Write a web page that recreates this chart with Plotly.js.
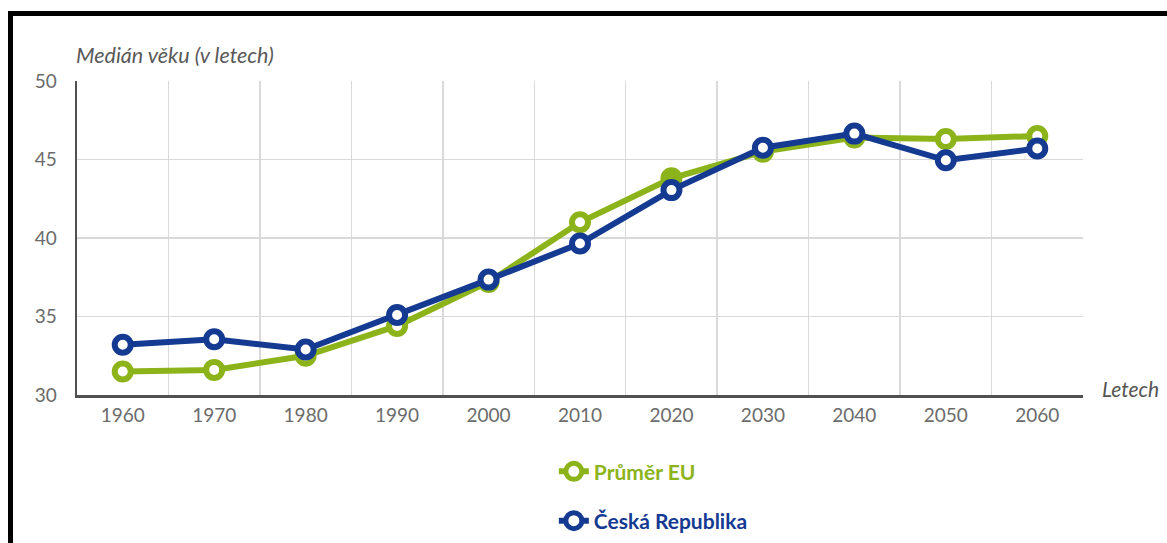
<!DOCTYPE html>
<html>
<head>
<meta charset="utf-8">
<script src="https://cdn.plot.ly/plotly-3.0.1.min.js"></script>
<style>
html,body{margin:0;padding:0;background:#fff;}
#chart{position:absolute;left:0;top:0;width:1167px;height:543px;}
#frame{position:absolute;left:8px;top:11px;width:1170px;height:560px;border-left:5px solid #000;border-top:5px solid #000;pointer-events:none;}
</style>
</head>
<body>
<div id="chart"></div>
<div id="frame"></div>
<script>
// Data
const years = ['1960','1970','1980','1990','2000','2010','2020','2030','2040','2050','2060'];
const euMedian = [31.5, 31.6, 32.5, 34.4, 37.2, 41.0, 43.8, 45.5, 46.4, 46.3, 46.5];
const czMedian = [33.2, 33.55, 32.9, 35.1, 37.35, 39.65, 43.05, 45.75, 46.65, 44.95, 45.7];
const seriesNames = ['Průměr EU', 'Česká Republika'];
const yAxisLabel = 'Medián věku (v letech)';
const xAxisLabel = 'Letech';

const green = '#8cb41a';
const blue = '#143a92';

function mk(name, y, color, group, filledIdx) {
  const fill = years.map((_, i) => (i === filledIdx ? color : '#ffffff'));
  return {
    type: 'scatter', mode: 'lines+markers', x: years, y: y,
    name: '<b><span style="color:' + color + '">' + name + '</span></b>',
    legendgroup: group,
    line: {color: color, width: 6},
    marker: {symbol: 'circle', size: 16, color: fill, line: {color: color, width: 6}},
    hoverinfo: 'x+y'
  };
}

const traces = [
  mk(seriesNames[0], euMedian, green, 'g1', 6),
  mk(seriesNames[1], czMedian, blue, 'g2', -1)
];

const layout = {
  width: 1167, height: 543,
  paper_bgcolor: '#ffffff', plot_bgcolor: '#ffffff',
  margin: {l: 77, r: 84, t: 81, b: 148, autoexpand: false},
  font: {family: 'Lato, "Open Sans", sans-serif', color: '#6b6b6b', size: 19},
  title: {
    text: yAxisLabel,
    font: {family: 'Lato, sans-serif', size: 21.5, color: '#595959', style: 'italic'},
    x: 76/1167, xanchor: 'left', xref: 'container',
    y: 1 - 55/543, yanchor: 'middle', yref: 'container'
  },
  xaxis: {
    type: 'category',
    range: [-0.5, years.length - 0.5],
    tickson: 'boundaries',
    showgrid: true, gridcolor: '#d9d9d9', gridwidth: 1.5,
    showline: true, linecolor: '#505050', linewidth: 2.5,
    ticks: '', ticklabelstandoff: 2,
    tickfont: {size: 19, color: '#6b6b6b'},
    zeroline: false, fixedrange: true
  },
  yaxis: {
    range: [30, 50], dtick: 5, tick0: 30,
    showgrid: true, gridcolor: '#d9d9d9', gridwidth: 1.5,
    showline: true, linecolor: '#505050', linewidth: 2.5,
    ticks: '', ticklabelstandoff: 14,
    tickfont: {size: 19, color: '#6b6b6b'},
    zeroline: false, fixedrange: true
  },
  showlegend: true,
  legend: {
    orientation: 'v', x: 0.474, xanchor: 'left', y: -0.179, yanchor: 'top',
    traceorder: 'grouped', tracegroupgap: 19,
    font: {size: 21}, bgcolor: 'rgba(0,0,0,0)'
  },
  annotations: [{
    text: xAxisLabel, xref: 'paper', yref: 'paper', x: 1.017, y: 0.02,
    xanchor: 'left', yanchor: 'middle', showarrow: false,
    font: {family: 'Lato, sans-serif', size: 21, color: '#555555', style: 'italic'}
  }]
};

Plotly.newPlot('chart', traces, layout, {displayModeBar: false, staticPlot: true});
</script>
</body>
</html>
